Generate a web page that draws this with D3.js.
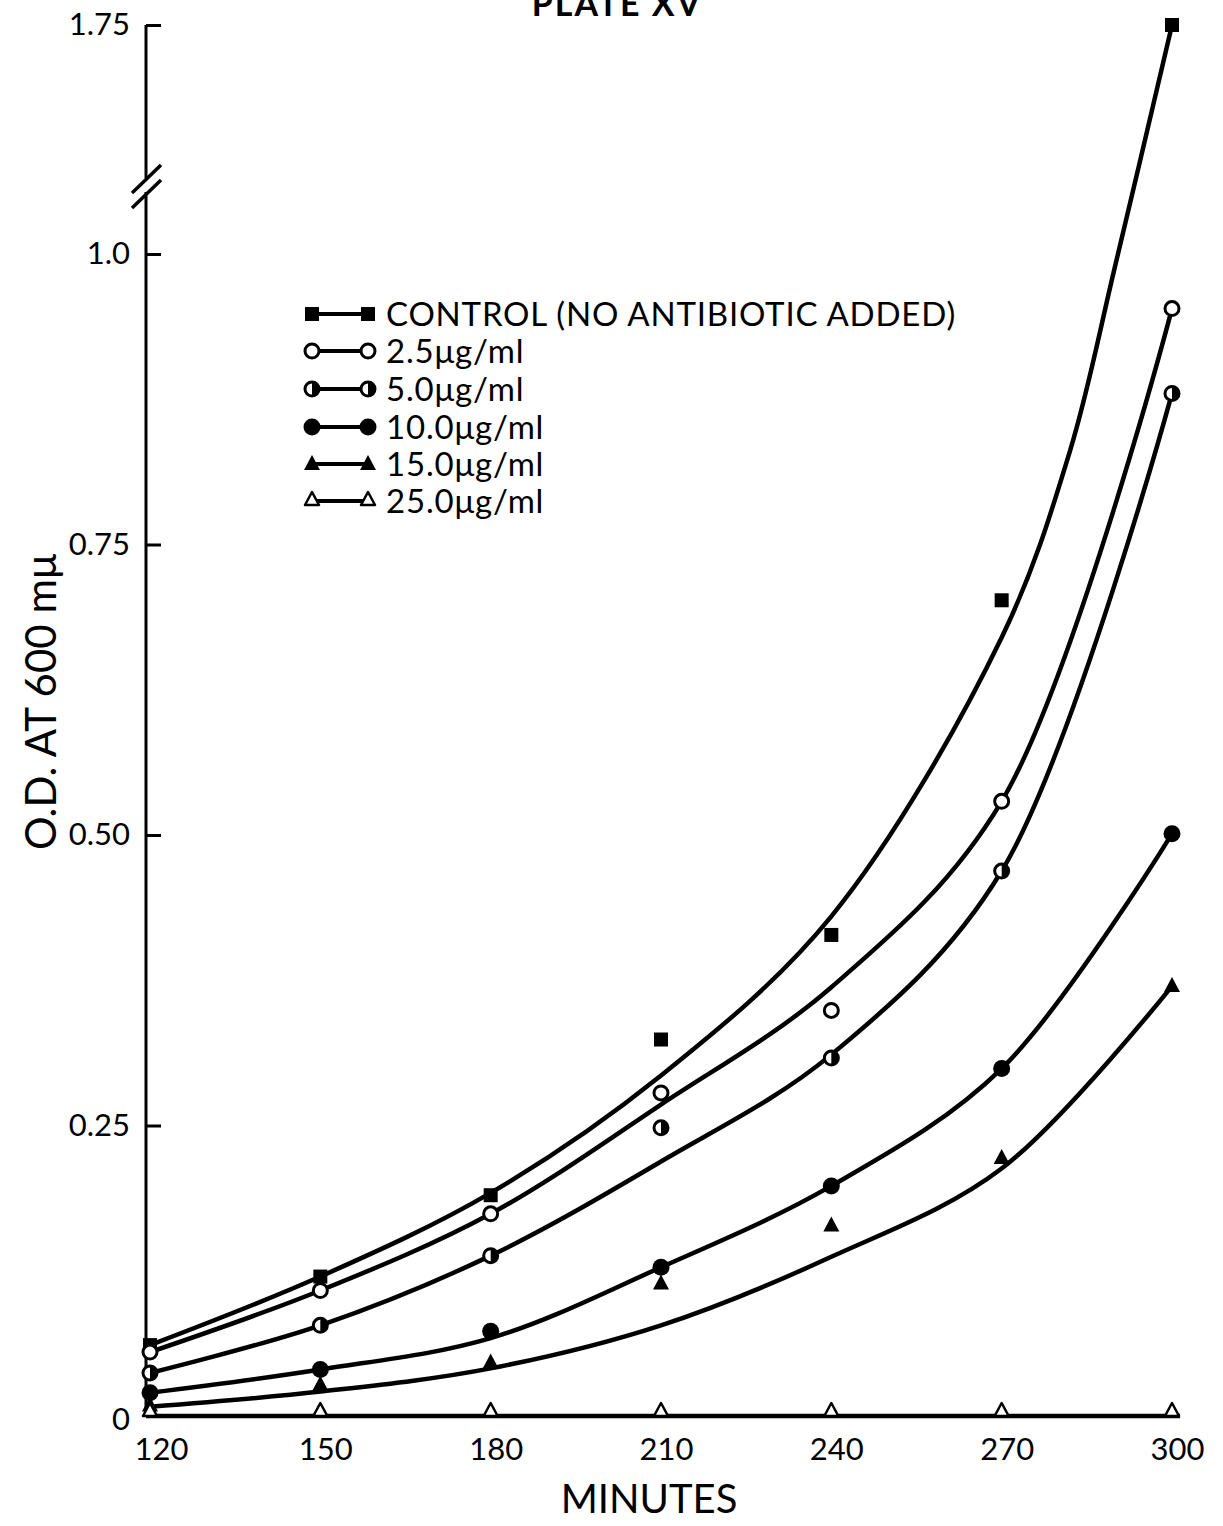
<!DOCTYPE html>
<html><head><meta charset="utf-8">
<script src="https://cdn.jsdelivr.net/npm/d3@7"></script>
<style>html,body{margin:0;padding:0;background:#fff;}svg{display:block;}</style>
</head><body>
<svg id="chart" width="1223" height="1526"></svg>
<script>
// ---- data ----
const minutes = [120, 150, 180, 210, 240, 270, 300];
const seriesLabels = ["CONTROL (NO ANTIBIOTIC ADDED)", "2.5\u03bcg/ml", "5.0\u03bcg/ml", "10.0\u03bcg/ml", "15.0\u03bcg/ml", "25.0\u03bcg/ml"];
const seriesSymbols = ["square", "open", "half", "filled", "triangle", "opentriangle"];
// observed points
const controlPts = [0.061, 0.120, 0.190, 0.324, 0.414, 0.702, 1.75];
const c25Pts = [0.055, 0.108, 0.174, 0.278, 0.349, 0.529, 0.953];
const c50Pts = [0.037, 0.078, 0.138, 0.248, 0.308, 0.469, 0.880];
const c100Pts = [0.020, 0.040, 0.073, 0.128, 0.198, 0.299, 0.501];
const c150Pts = [0.009, 0.027, 0.046, 0.114, 0.164, 0.222, 0.370];
const c250Pts = [0, 0, 0, 0, 0, 0, 0];
// fitted (hand-drawn) curves
const controlFitX = [120, 150, 180, 210, 240, 270, 282, 290, 300];
const controlFitY = [0.061, 0.120, 0.192, 0.293, 0.430, 0.670, 0.830, 0.990, 1.75];
const c25FitY = [0.055, 0.108, 0.174, 0.268, 0.369, 0.529, 0.953];
const c50FitY = [0.037, 0.078, 0.138, 0.219, 0.311, 0.469, 0.880];
const c100FitY = [0.020, 0.040, 0.067, 0.128, 0.198, 0.299, 0.501];
const c150FitY = [0.008, 0.021, 0.041, 0.078, 0.137, 0.213, 0.370];
const c250FitY = [0, 0, 0, 0, 0, 0, 0];
// axis ticks
const yTickValues = [0, 0.25, 0.5, 0.75, 1.0, 1.75];
const yTickLabels = ["0", "0.25", "0.50", "0.75", "1.0", "1.75"];
const xTickLabels = ["120", "150", "180", "210", "240", "270", "300"];
const title = "PLATE XV";
const xTitle = "MINUTES";
const yTitle = "O.D. AT 600 m\u03bc";

// ---- drawing ----
const FONT = "Lato, 'DejaVu Sans', sans-serif";
const svg = d3.select("#chart");
const x = d3.scaleLinear().domain([120, 300]).range([150, 1172]);
const y = d3.scaleLinear().domain([0, 1, 1.75]).range([1416, 254, 25]);
const axisX = 146;

const ptsAll = [controlPts, c25Pts, c50Pts, c100Pts, c150Pts, c250Pts];
const fits = [
  controlFitX.map((m, i) => [m, controlFitY[i]]),
  minutes.map((m, i) => [m, c25FitY[i]]),
  minutes.map((m, i) => [m, c50FitY[i]]),
  minutes.map((m, i) => [m, c100FitY[i]]),
  minutes.map((m, i) => [m, c150FitY[i]]),
  minutes.map((m, i) => [m, c250FitY[i]])
];

// title (cut at top edge as in the reference)
svg.append("text").attr("x", 617).attr("y", 16).attr("text-anchor", "middle")
  .attr("font-family", FONT).attr("font-size", 34).attr("font-weight", 700)
  .attr("letter-spacing", 2).text(title);

// y axis
const yAxis = d3.axisLeft(y).tickValues(yTickValues).tickSize(-15).tickPadding(16)
  .tickFormat((d, i) => yTickLabels[i]);
const gy = svg.append("g").attr("transform", `translate(${axisX},0)`).call(yAxis);
gy.select(".domain").remove();
gy.selectAll(".tick line").attr("stroke", "#000").attr("stroke-width", 3);
gy.selectAll(".tick text").attr("font-family", FONT).attr("font-size", 31).attr("fill", "#000");
gy.selectAll(".tick").filter(d => d === 0).select("line").remove();
gy.selectAll(".tick").filter(d => d === 0).select("text").attr("dy", "0.45em");

// axis line with break
svg.append("line").attr("x1", axisX).attr("x2", axisX).attr("y1", y(1.75)).attr("y2", 178)
  .attr("stroke", "#000").attr("stroke-width", 3);
svg.append("line").attr("x1", axisX).attr("x2", axisX).attr("y1", 192).attr("y2", y(0))
  .attr("stroke", "#000").attr("stroke-width", 3);
[[165, 193], [180, 208]].forEach(([t, b]) => {
  svg.append("line").attr("x1", 161).attr("y1", t).attr("x2", 132).attr("y2", b)
    .attr("stroke", "#000").attr("stroke-width", 3.5);
});

// x axis
const xAxis = d3.axisBottom(x).tickValues(minutes).tickSize(0).tickPadding(22)
  .tickFormat((d, i) => xTickLabels[i]);
const gx = svg.append("g").attr("transform", `translate(0,${y(0)})`).call(xAxis);
gx.select(".domain").remove();
gx.selectAll(".tick text").attr("font-family", FONT).attr("font-size", 31).attr("fill", "#000")
  .attr("dx", (d, i) => i === 0 ? 11 : 5);
svg.append("line").attr("x1", axisX).attr("x2", 1180).attr("y1", y(0)).attr("y2", y(0))
  .attr("stroke", "#000").attr("stroke-width", 4.5);

// axis titles
svg.append("text").attr("x", 649).attr("y", 1513).attr("text-anchor", "middle")
  .attr("font-family", FONT).attr("font-size", 40).text(xTitle);
svg.append("text").attr("transform", "translate(56,702) rotate(-90)").attr("text-anchor", "middle")
  .attr("font-family", FONT).attr("font-size", 42).text(yTitle);

// curves
const line = d3.line().x(d => x(d[0])).y(d => y(d[1])).curve(d3.curveCatmullRom.alpha(0.5));
fits.forEach((f, i) => {
  if (i === 5) return; // coincides with x axis
  svg.append("path").datum(f).attr("d", line).attr("fill", "none")
    .attr("stroke", "#000").attr("stroke-width", 4.5).attr("stroke-linecap", "round");
});

// markers
function marker(g, type, cx, cy) {
  if (type === "square") {
    g.append("rect").attr("x", cx - 7).attr("y", cy - 7).attr("width", 14).attr("height", 14).attr("fill", "#000");
  } else if (type === "open") {
    g.append("circle").attr("cx", cx).attr("cy", cy).attr("r", 7).attr("fill", "#fff")
      .attr("stroke", "#000").attr("stroke-width", 3);
  } else if (type === "half") {
    g.append("circle").attr("cx", cx).attr("cy", cy).attr("r", 7).attr("fill", "#fff")
      .attr("stroke", "#000").attr("stroke-width", 3);
    g.append("path").attr("d", d3.arc()({innerRadius: 0, outerRadius: 7, startAngle: 0, endAngle: Math.PI}))
      .attr("transform", `translate(${cx},${cy})`).attr("fill", "#000");
  } else if (type === "filled") {
    g.append("circle").attr("cx", cx).attr("cy", cy).attr("r", 8.5).attr("fill", "#000");
  } else if (type === "triangle") {
    g.append("path").attr("d", `M${cx},${cy - 9}L${cx + 8},${cy + 6}L${cx - 8},${cy + 6}Z`).attr("fill", "#000");
  } else if (type === "opentriangle") {
    g.append("path").attr("d", `M${cx},${cy - 13}L${cx + 7},${cy}L${cx - 7},${cy}Z`).attr("fill", "#fff")
      .attr("stroke", "#000").attr("stroke-width", 2.5).attr("stroke-linejoin", "round");
  }
}
const gm = svg.append("g");
ptsAll.forEach((pts, si) => {
  pts.forEach((v, i) => marker(gm, seriesSymbols[si], x(minutes[i]), y(v)));
});

// legend
const lg = svg.append("g");
const legY = [314, 351, 389, 427, 464, 501];
seriesLabels.forEach((lab, i) => {
  const ly = legY[i];
  lg.append("line").attr("x1", 312).attr("x2", 368).attr("y1", ly).attr("y2", ly)
    .attr("stroke", "#000").attr("stroke-width", 4);
  const t = seriesSymbols[i];
  const dy = (t === "opentriangle") ? 4 : 0;
  marker(lg, t, 312, ly + dy);
  marker(lg, t, 368, ly + dy);
  lg.append("text").attr("x", 386).attr("y", ly + 12).attr("font-family", FONT)
    .attr("font-size", 33).attr("letter-spacing", 0.8).text(lab);
});
</script>
</body></html>
